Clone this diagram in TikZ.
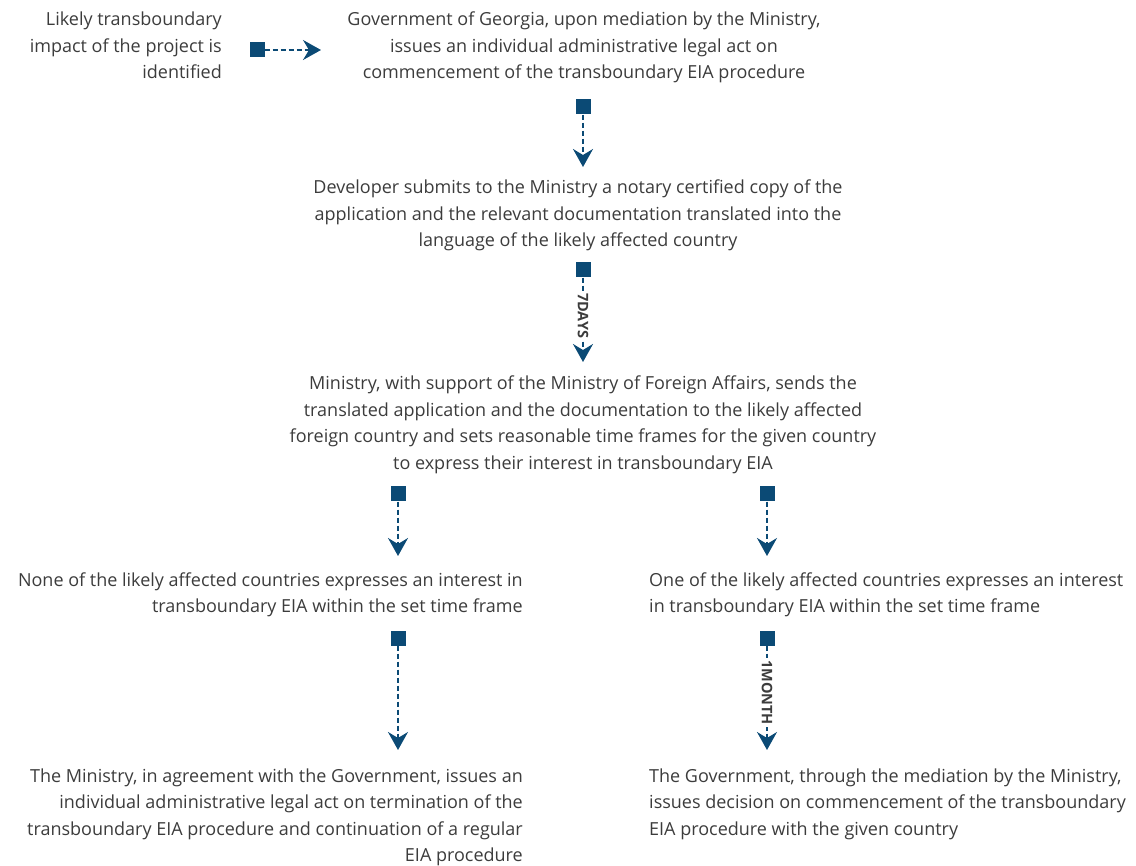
\documentclass[tikz,border=0pt]{standalone}
\usepackage{fontspec}
\setmainfont{Open Sans}
\usetikzlibrary{arrows.meta}
\definecolor{flowblue}{HTML}{0B4A75}
\definecolor{txtgray}{HTML}{3C3C3C}
\begin{document}
\begin{tikzpicture}[x=1pt,y=-1pt,
  txt/.style={inner sep=0pt,text=txtgray,font=\fontsize{18}{26.5}\selectfont},
  sq/.style={fill=flowblue,minimum size=15pt,inner sep=0pt},
  flow/.style={draw=flowblue,line width=2pt,dash pattern=on 5pt off 3pt,
    -{Stealth[length=18pt,width=20pt,inset=6pt]}},
  lbl/.style={rotate=-90,fill=white,inner sep=2pt,text=txtgray,font=\fontsize{14.5}{15}\selectfont\bfseries}]
\useasboundingbox (0,0) rectangle (1136,866);
\node[txt,anchor=base east,align=right] (a) at (222,79) {Likely transboundary\\impact of the project is\\identified};
\node[txt,anchor=base,align=center] (b) at (584,79) {Government of Georgia, upon mediation by the Ministry,\\issues an individual administrative legal act on\\commencement of the transboundary EIA procedure};
\node[txt,anchor=base,align=center] (c) at (578,247) {Developer submits to the Ministry a notary certified copy of the\\application and the relevant documentation translated into the\\language of the likely affected country};
\node[txt,anchor=base,align=center] (d) at (583,469.5) {Ministry, with support of the Ministry of Foreign Affairs, sends the\\translated application and the documentation to the likely affected\\foreign country and sets reasonable time frames for the given country\\to express their interest in transboundary EIA};
\node[txt,anchor=base east,align=right] (e) at (523,612.5) {None of the likely affected countries expresses an interest in\\transboundary EIA within the set time frame};
\node[txt,anchor=base west,align=left] (f) at (649,612.5) {One of the likely affected countries expresses an interest\\in transboundary EIA within the set time frame};
\node[txt,anchor=base east,align=right] (g) at (523,861.5) {The Ministry, in agreement with the Government, issues an\\individual administrative legal act on termination of the\\transboundary EIA procedure and continuation of a regular\\EIA procedure};
\node[txt,anchor=base west,align=left] (h) at (649,835) {The Government, through the mediation by the Ministry,\\issues decision on commencement of the transboundary\\EIA procedure with the given country};
% squares
\node[sq] (s1) at (257,50) {};
\node[sq] (s2) at (583,107) {};
\node[sq] (s3) at (583,270) {};
\node[sq] (s4) at (398,494) {};
\node[sq] (s5) at (767,494) {};
\node[sq] (s6) at (398,638) {};
\node[sq] (s7) at (767,638) {};
% arrow ends
\coordinate (t1) at (321,50);
\coordinate (t2) at (583,167);
\coordinate (t3) at (583,362);
\coordinate (t4) at (398,556);
\coordinate (t5) at (767,556);
\coordinate (t6) at (398,750);
\coordinate (t7) at (767,750);
\draw[flow] (s1.east) -- (t1);
\draw[flow] (s2.south) -- (t2);
\draw[flow] (s3.south) -- (t3) node[pos=0.45,lbl] (l1) {7DAYS};
\draw[flow] (s4.south) -- (t4);
\draw[flow] (s5.south) -- (t5);
\draw[flow] (s6.south) -- (t6);
\draw[flow] (s7.south) -- (t7) node[pos=0.45,lbl] (l2) {1MONTH};
\end{tikzpicture}
\end{document}
